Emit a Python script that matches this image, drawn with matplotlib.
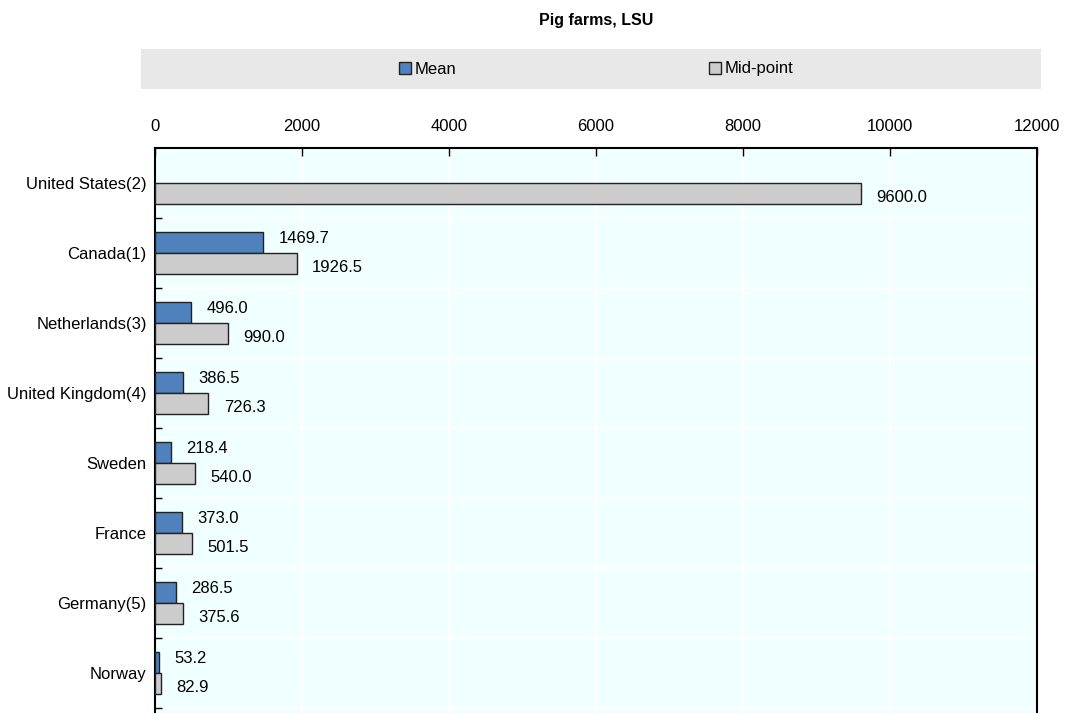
import matplotlib
matplotlib.use('Agg')
import matplotlib.pyplot as plt
import numpy as np
from matplotlib.patches import Rectangle, Patch

plt.rcParams['font.family'] = ['Liberation Sans', 'DejaVu Sans']
plt.rcParams['font.size'] = 12

# Data
countries = ['United States(2)', 'Canada(1)', 'Netherlands(3)', 'United Kingdom(4)',
             'Sweden', 'France', 'Germany(5)', 'Norway']
mean_vals = [np.nan, 1469.7, 496.0, 386.5, 218.4, 373.0, 286.5, 53.2]
mid_vals = [9600.0, 1926.5, 990.0, 726.3, 540.0, 501.5, 375.6, 82.9]
xticks = [0, 2000, 4000, 6000, 8000, 10000, 12000]

mean_color = '#4F81BD'
mid_color = '#CCCCCC'
edge_color = '#222222'

W, H = 1065, 713
fig = plt.figure(figsize=(W / 100, H / 100), dpi=100)

# axes placement in pixels (top=148, left=155, right=1037, runs off the bottom)
left, right, top, bottom = 155, 1037, 148, 720
ax = fig.add_axes([left / W, (H - bottom) / H, (right - left) / W, (bottom - top) / H])
ax.set_facecolor('#F0FFFF')

y = np.arange(len(countries))
bh = 0.29
ax.barh(y - 0.15, mean_vals, height=bh, color=mean_color, edgecolor=edge_color, linewidth=1, zorder=3)
ax.barh(y + 0.15, mid_vals, height=bh, color=mid_color, edgecolor=edge_color, linewidth=1, zorder=3)

for yi, v in zip(y, mean_vals):
    if not np.isnan(v):
        ax.annotate(f'{v:.1f}', (v, yi - 0.15), xytext=(11, 3), textcoords='offset points',
                    va='center', ha='left', fontsize=12, zorder=4)
for yi, v in zip(y, mid_vals):
    ax.annotate(f'{v:.1f}', (v, yi + 0.15), xytext=(11, -3), textcoords='offset points',
                va='center', ha='left', fontsize=12, zorder=4)

ax.set_xlim(0, 12000)
ax.set_ylim(-0.5 + (bottom - top) / 70.0, -0.5)

ax.set_xticks(xticks)
ax.set_xticklabels([str(t) for t in xticks])
ax.xaxis.tick_top()
ax.tick_params(axis='x', which='major', direction='in', length=6, width=1, pad=10,
               top=True, bottom=False, labelsize=12)

ax.set_yticks(y)
ax.set_yticklabels(countries)
ax.set_yticks(np.arange(len(countries)) + 0.5, minor=True)
ax.tick_params(axis='y', which='major', length=0, pad=6, labelsize=12)
ax.tick_params(axis='y', which='minor', direction='in', length=5, width=1)

ax.grid(True, axis='x', which='major', color='white', linewidth=1.5, zorder=1)
ax.grid(True, axis='y', which='minor', color='white', linewidth=1.5, zorder=1)
ax.set_axisbelow(True)

for side in ['left', 'right', 'top']:
    ax.spines[side].set_linewidth(1.5)
    ax.spines[side].set_color('black')
ax.spines['bottom'].set_visible(False)

# title and legend band
fig.text((left + right) / 2 / W, 1 - 20 / H, 'Pig farms, LSU', ha='center', va='center',
         fontsize=11.5, fontweight='bold')
fig.patches.append(Rectangle((141 / W, 1 - 89 / H), (1041 - 141) / W, 40 / H,
                             transform=fig.transFigure, facecolor='#E8E8E8',
                             edgecolor='none', zorder=0))

leg1 = fig.legend(handles=[Patch(facecolor=mean_color, edgecolor=edge_color)], labels=['Mean'],
                  loc='center left', bbox_to_anchor=(384 / W, 1 - 69 / H), frameon=False,
                  handlelength=0.7, handleheight=0.7, handletextpad=0.25, fontsize=12)
leg2 = fig.legend(handles=[Patch(facecolor=mid_color, edgecolor=edge_color)], labels=['Mid-point'],
                  loc='center left', bbox_to_anchor=(694 / W, 1 - 69 / H), frameon=False,
                  handlelength=0.7, handleheight=0.7, handletextpad=0.25, fontsize=12)

fig.savefig('out.png', dpi=100)
